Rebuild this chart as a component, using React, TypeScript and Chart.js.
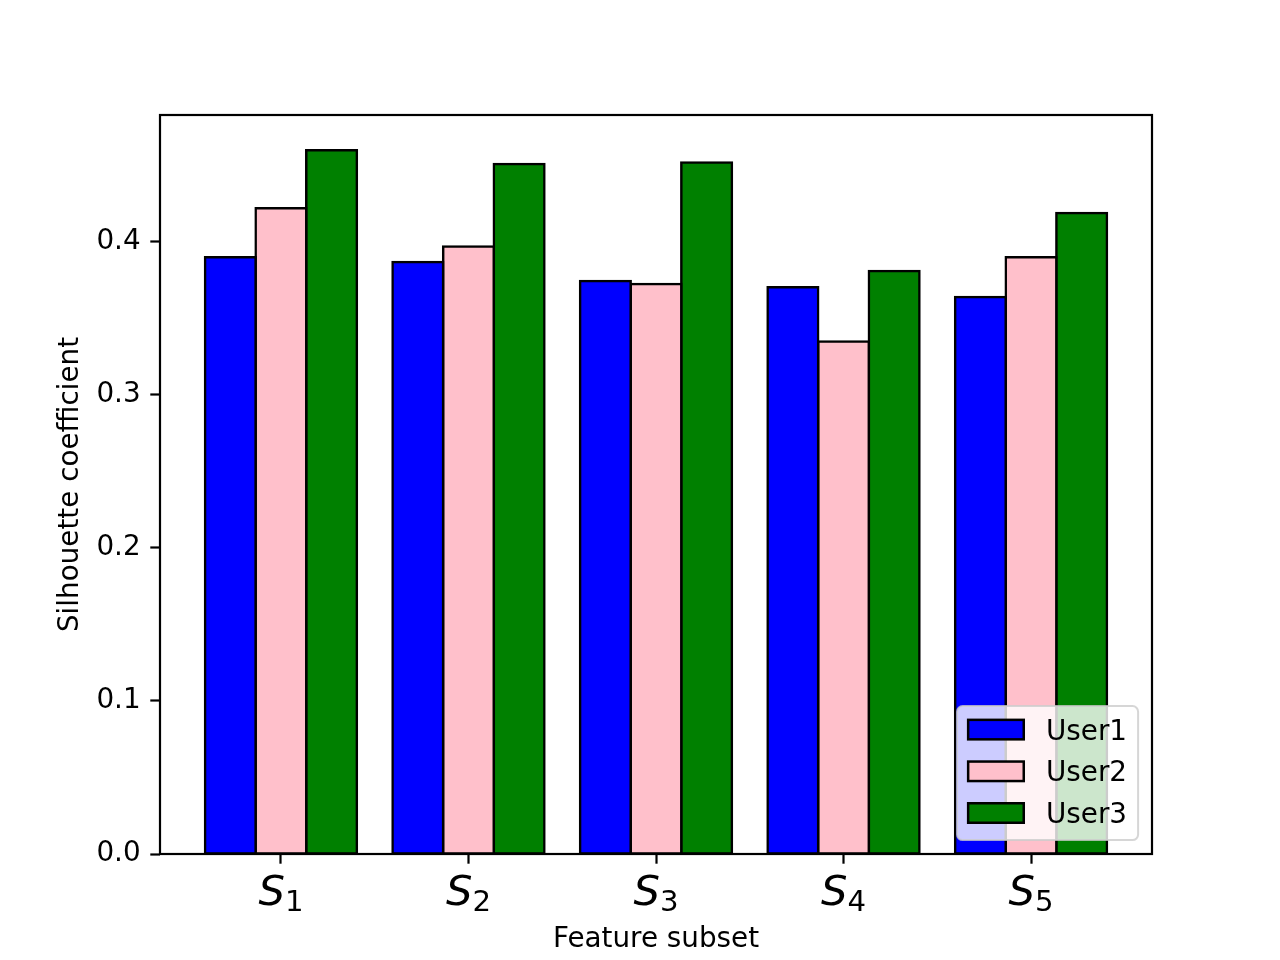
import { useEffect, useRef } from 'react';
import { Chart, registerables } from 'chart.js';

Chart.register(...registerables);

// ---- data ----
const categories = ['S1', 'S2', 'S3', 'S4', 'S5'];
const seriesNames = ['User1', 'User2', 'User3'];
const user1 = [0.390, 0.387, 0.3745, 0.3705, 0.364];
const user2 = [0.422, 0.397, 0.3725, 0.335, 0.390];
const user3 = [0.460, 0.451, 0.452, 0.381, 0.419];
const yTickValues = [0, 0.1, 0.2, 0.3, 0.4];
const yMax = 0.483;
const xTitle = 'Feature subset';
const yTitle = 'Silhouette coefficient';

// ---- styles ----
const colors = ['#0000ff', '#ffc0cb', '#008000'];
const FONT = '"DejaVu Sans", sans-serif';
const BASE = 27.8;

const decor = {
  id: 'decor',
  afterDatasetsDraw(chart: any) {
    const { ctx, chartArea: a } = chart;
    ctx.save();
    ctx.strokeStyle = '#000';
    ctx.lineWidth = 2.2;
    ctx.strokeRect(a.left, a.top, a.right - a.left, a.bottom - a.top);
    ctx.restore();
  },
  afterDraw(chart: any) {
    const { ctx, chartArea: a } = chart;
    const xs = chart.scales.x;
    ctx.save();
    ctx.fillStyle = '#000';
    ctx.textAlign = 'left';
    ctx.textBaseline = 'alphabetic';
    // x tick labels: italic S with upright subscript
    const mainFont = `italic 41.7px ${FONT}`;
    const subFont = `29.2px ${FONT}`;
    const baseY = a.bottom + 51;
    categories.forEach((lab, i) => {
      const base = lab.slice(0, 1);
      const sub = lab.slice(1);
      const px = xs.getPixelForValue(i);
      ctx.font = mainFont;
      const wS = ctx.measureText(base).width;
      ctx.font = subFont;
      const wD = ctx.measureText(sub).width;
      const x0 = px - (wS + wD) / 2;
      ctx.font = mainFont;
      ctx.fillText(base, x0, baseY);
      ctx.font = subFont;
      ctx.fillText(sub, x0 + wS, baseY + 5.7);
    });
    // axis titles
    ctx.font = `${BASE}px ${FONT}`;
    ctx.textAlign = 'center';
    ctx.fillText(xTitle, (a.left + a.right) / 2, 946.7);
    ctx.save();
    ctx.translate(77.5, (a.top + a.bottom) / 2);
    ctx.rotate(-Math.PI / 2);
    ctx.fillText(yTitle, 0, 0);
    ctx.restore();

    // legend (lower right inside axes)
    const pad = 11.1;
    const handleW = 55.6;
    const handleH = 19.5;
    const textPad = 22.2;
    ctx.font = `${BASE}px ${FONT}`;
    const tw = Math.max(...seriesNames.map((n) => ctx.measureText(n).width));
    const w = pad + handleW + textPad + tw + pad;
    const h = 134;
    const right = a.right - 13.9;
    const bottom = a.bottom - 13.9;
    const left = right - w;
    const top = bottom - h;
    const r = 5.6;
    ctx.beginPath();
    ctx.moveTo(left + r, top);
    ctx.lineTo(right - r, top);
    ctx.arcTo(right, top, right, top + r, r);
    ctx.lineTo(right, bottom - r);
    ctx.arcTo(right, bottom, right - r, bottom, r);
    ctx.lineTo(left + r, bottom);
    ctx.arcTo(left, bottom, left, bottom - r, r);
    ctx.lineTo(left, top + r);
    ctx.arcTo(left, top, left + r, top, r);
    ctx.closePath();
    ctx.fillStyle = 'rgba(255,255,255,0.8)';
    ctx.fill();
    ctx.strokeStyle = 'rgba(204,204,204,0.8)';
    ctx.lineWidth = 2;
    ctx.stroke();
    seriesNames.forEach((name, i) => {
      const cy = top + 23.5 + i * 41.7;
      const hx = left + pad;
      ctx.fillStyle = colors[i];
      ctx.fillRect(hx, cy - handleH / 2, handleW, handleH);
      ctx.strokeStyle = '#000';
      ctx.lineWidth = 2.5;
      ctx.strokeRect(hx, cy - handleH / 2, handleW, handleH);
      ctx.fillStyle = '#000';
      ctx.textAlign = 'left';
      ctx.textBaseline = 'alphabetic';
      ctx.fillText(name, hx + handleW + textPad, cy + 10.1);
    });
    ctx.restore();
  },
};

export default function App() {
  const ref = useRef<HTMLCanvasElement | null>(null);
  useEffect(() => {
    document.body.style.margin = '0';
    const canvas = ref.current;
    if (!canvas) return;
    const series = [user1, user2, user3];
    const chart = new Chart(canvas, {
      type: 'bar',
      data: {
        datasets: series.map((vals, si) => ({
          label: seriesNames[si],
          data: categories.map((_, i) => ({ x: i, y: vals[i] })),
          backgroundColor: colors[si],
          borderColor: '#000',
          borderWidth: 2.5,
          borderSkipped: false,
          inflateAmount: 1.25,
          categoryPercentage: 0.81,
          barPercentage: 1,
        })),
      },
      options: {
        responsive: false,
        animation: false,
        devicePixelRatio: 1,
        layout: { padding: { top: 115, right: 128, left: 0, bottom: 0 } },
        plugins: { legend: { display: false }, tooltip: { enabled: false } },
        scales: {
          x: {
            type: 'linear',
            offset: false,
            min: -0.645,
            max: categories.length - 1 + 0.645,
            afterBuildTicks: (s: any) => {
              s.ticks = categories.map((_, i) => ({ value: i }));
            },
            afterFit: (s: any) => {
              s.height = 106;
            },
            ticks: { display: false },
            grid: {
              display: true,
              offset: false,
              drawOnChartArea: false,
              drawTicks: true,
              tickLength: 9.7,
              tickWidth: 2.2,
              tickColor: '#000',
              color: '#000',
            },
            border: { display: false },
          },
          y: {
            type: 'linear',
            min: 0,
            max: yMax,
            afterBuildTicks: (s: any) => {
              s.ticks = yTickValues.map((v) => ({ value: v }));
            },
            afterFit: (s: any) => {
              s.width = 160;
            },
            ticks: {
              padding: 9.7,
              color: '#000',
              font: { family: FONT, size: BASE },
              callback: (v: any) => Number(v).toFixed(1),
            },
            grid: {
              display: true,
              drawOnChartArea: false,
              drawTicks: true,
              tickLength: 9.7,
              tickWidth: 2.2,
              tickColor: '#000',
              color: '#000',
            },
            border: { display: false },
          },
        },
      },
      plugins: [decor],
    } as any);
    return () => chart.destroy();
  }, []);
  return (
    <div style={{ width: 1280, height: 960, background: '#fff' }}>
      <canvas ref={ref} width={1280} height={960} style={{ display: 'block' }} />
    </div>
  );
}
